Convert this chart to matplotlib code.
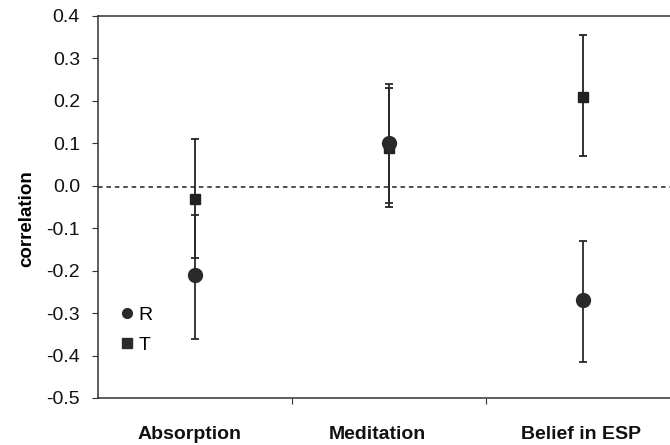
import matplotlib
matplotlib.use("Agg")
import matplotlib.pyplot as plt
import numpy as np
from matplotlib.lines import Line2D

plt.rcParams['font.family'] = ['Liberation Sans', 'DejaVu Sans']

categories = ["Absorption", "Meditation", "Belief in ESP"]
r_vals = [-0.21, 0.10, -0.27]
r_low = [-0.36, -0.04, -0.415]
r_high = [-0.07, 0.24, -0.13]
t_vals = [-0.03, 0.09, 0.21]
t_low = [-0.17, -0.05, 0.07]
t_high = [0.11, 0.23, 0.355]
yticks = [0.4, 0.3, 0.2, 0.1, 0.0, -0.1, -0.2, -0.3, -0.4, -0.5]

fig = plt.figure(figsize=(6.7, 4.45), dpi=100)
ax = fig.add_axes([98/670, 1-398/445, 1-98/670, (398-16)/445])

x = np.arange(1, len(categories)+1)
r = np.array(r_vals); t = np.array(t_vals)
r_err = [r - np.array(r_low), np.array(r_high) - r]
t_err = [t - np.array(t_low), np.array(t_high) - t]

ax.axhline(-0.004, color='#222222', lw=1.1, ls=(0, (3, 2.5)), zorder=1)
ax.errorbar(x, t, yerr=t_err, fmt='s', color='#222222', ms=7, capsize=3,
            elinewidth=1.3, capthick=1.3, zorder=3)
ax.errorbar(x, r, yerr=r_err, fmt='o', color='#2a2a2a', ms=10, capsize=3,
            elinewidth=1.3, capthick=1.3, zorder=4)

ax.set_xlim(0.5, 3.45)
ax.set_ylim(-0.5, 0.4)
ax.set_yticks(yticks)
ax.set_yticklabels([f"{v:.1f}" for v in yticks], fontsize=14)
ax.set_xticks([1.5, 2.5])
ax.set_xticklabels([])
ax.tick_params(axis='both', direction='out', length=4, width=0.8, colors='#333333')
ax.tick_params(axis='y', labelcolor='#111111', pad=9)
label_x = [0.97, 1.94, 2.99]
for i, c in enumerate(categories):
    ax.text(label_x[i], -0.565, c, ha='center', va='top', fontsize=14,
            fontweight='bold', transform=ax.transData, color='#111111')
ax.set_ylabel("correlation", fontsize=13.5, fontweight='bold')
ax.yaxis.set_label_coords(-0.11, 0.47)
ax.spines['right'].set_visible(False)
for s in ['left', 'top', 'bottom']:
    ax.spines[s].set_linewidth(1.1)
    ax.spines[s].set_color('#333333')

h = [Line2D([], [], marker='o', ls='', color='#2a2a2a', ms=7),
     Line2D([], [], marker='s', ls='', color='#2a2a2a', ms=6.5)]
ax.legend(h, ['R', 'T'], loc='lower left', bbox_to_anchor=(0.0, 0.07),
          frameon=False, fontsize=14, handletextpad=0.0, handlelength=1.2,
          labelspacing=0.65)

fig.savefig("out.png", dpi=100)
